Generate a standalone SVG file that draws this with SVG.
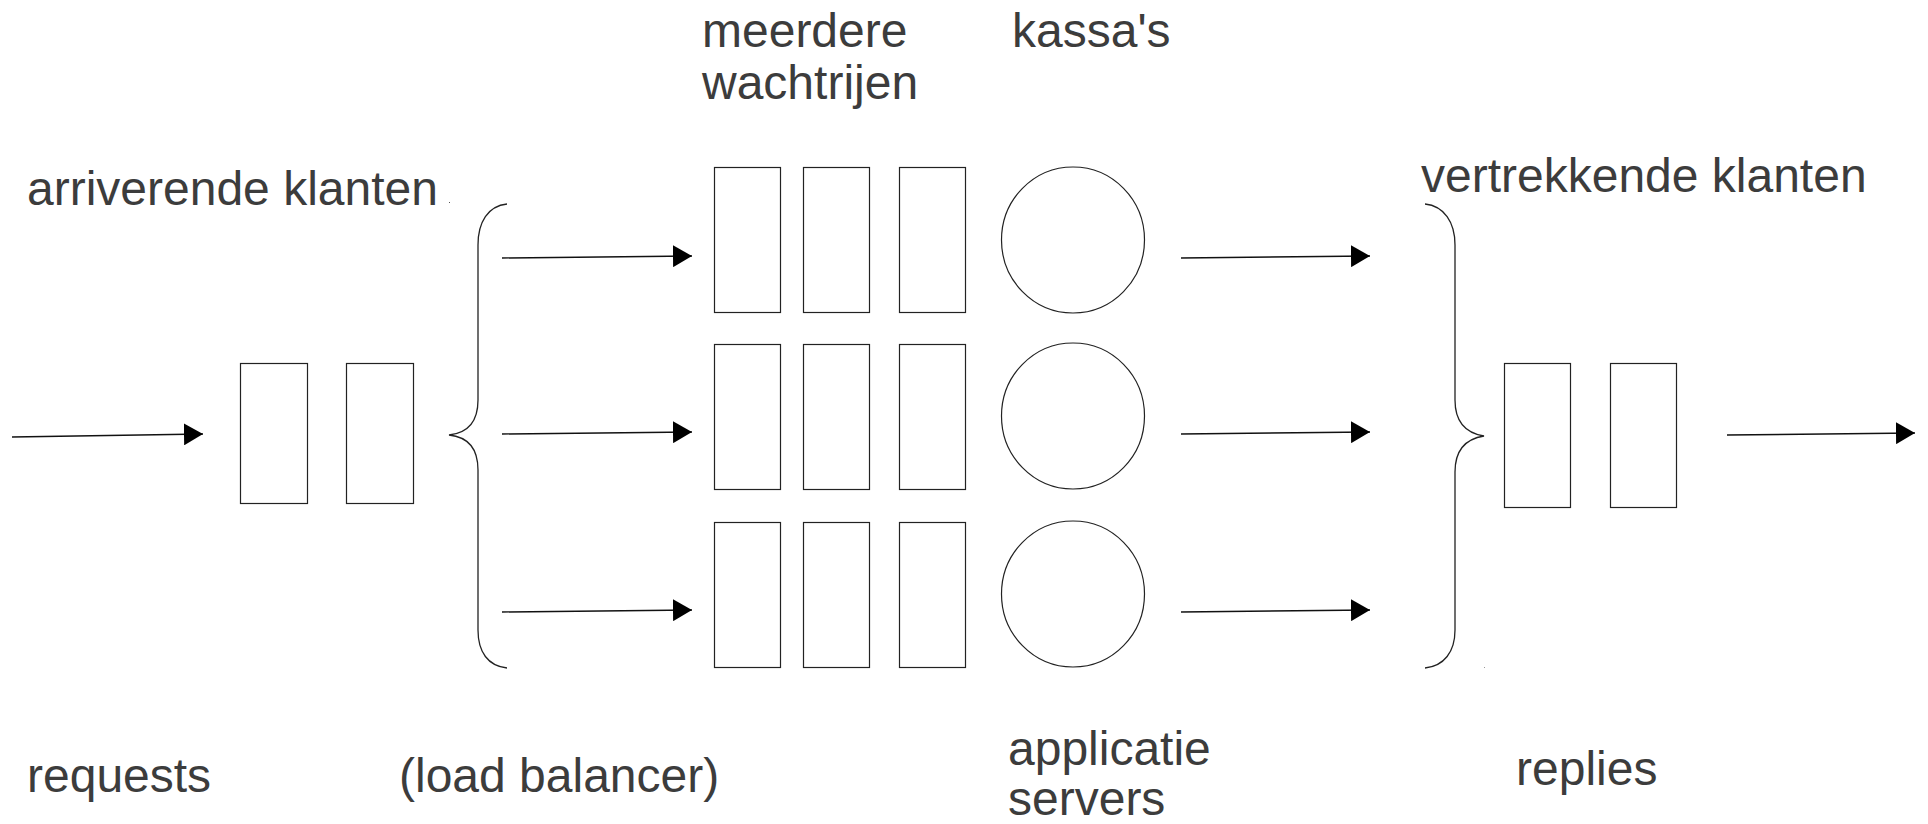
<svg xmlns="http://www.w3.org/2000/svg" width="1928" height="824" viewBox="0 0 1928 824">
<style>
.t{font-family:"Liberation Sans",Arial,sans-serif;font-size:48px;fill:#3c3c3c}
.b{fill:#fff;stroke:#222;stroke-width:1.2}
.c{fill:none;stroke:#111;stroke-width:1.4}
.br{fill:none;stroke:#222;stroke-width:1.3}
</style>
<defs>
<marker id="ah" viewBox="0 0 19 22" refX="19" refY="11" markerWidth="19" markerHeight="22" markerUnits="userSpaceOnUse" orient="auto">
<path d="M0,0 L19,11 L0,22 z" fill="#000"/>
</marker>
</defs>
<rect width="1928" height="824" fill="#fff"/>
<g id="labels">
<text class="t" x="27" y="205">arriverende klanten</text>
<text class="t" x="702" y="47">meerdere</text>
<text class="t" x="702" y="99">wachtrijen</text>
<text class="t" x="1012" y="47">kassa's</text>
<text class="t" x="1421" y="192">vertrekkende klanten</text>
<text class="t" x="27" y="792">requests</text>
<text class="t" x="399" y="792">(load balancer)</text>
<text class="t" x="1008" y="765">applicatie</text>
<text class="t" x="1008" y="815">servers</text>
<text class="t" x="1516" y="785">replies</text>
</g>
<g id="in-queue">
<rect class="b" x="240.5" y="363.5" width="67" height="140"/>
<rect class="b" x="346.5" y="363.5" width="67" height="140"/>
</g>
<g id="load-balancer">
<path class="br" d="M507,204 C488,206 478,222 478,245 L478,400 C478,422 468,433 449,435 C468,437 478,448 478,470 L478,630 C478,652 488,666 507,668"/>
<rect x="449" y="202" width="1" height="1" fill="#555"/>
</g>
<g id="queues">
<rect class="b" x="714.5" y="167.5" width="66" height="145"/>
<rect class="b" x="803.5" y="167.5" width="66" height="145"/>
<rect class="b" x="899.5" y="167.5" width="66" height="145"/>
<rect class="b" x="714.5" y="344.5" width="66" height="145"/>
<rect class="b" x="803.5" y="344.5" width="66" height="145"/>
<rect class="b" x="899.5" y="344.5" width="66" height="145"/>
<rect class="b" x="714.5" y="522.5" width="66" height="145"/>
<rect class="b" x="803.5" y="522.5" width="66" height="145"/>
<rect class="b" x="899.5" y="522.5" width="66" height="145"/>
</g>
<g id="servers">
<ellipse class="b" cx="1073" cy="240" rx="71.5" ry="73"/>
<ellipse class="b" cx="1073" cy="416" rx="71.5" ry="73"/>
<ellipse class="b" cx="1073" cy="594" rx="71.5" ry="73"/>
</g>
<g id="merge">
<path class="br" d="M1425,204 C1444,206 1455,222 1455,245 L1455,400 C1455,422 1465,433 1484,436 C1465,439 1455,450 1455,472 L1455,630 C1455,652 1444,666 1425,668"/>
<rect x="1484" y="667" width="1" height="1" fill="#999"/>
</g>
<g id="out-queue">
<rect class="b" x="1504.5" y="363.5" width="66" height="144"/>
<rect class="b" x="1610.5" y="363.5" width="66" height="144"/>
</g>
<g id="connectors">
<path class="c" d="M12,437 L203,434" marker-end="url(#ah)"/>
<path class="c" d="M502,258 L692,256" marker-end="url(#ah)"/>
<path class="c" d="M502,434 L692,432" marker-end="url(#ah)"/>
<path class="c" d="M502,612 L692,610" marker-end="url(#ah)"/>
<path class="c" d="M1181,258 L1370,256" marker-end="url(#ah)"/>
<path class="c" d="M1181,434 L1370,432" marker-end="url(#ah)"/>
<path class="c" d="M1181,612 L1370,610" marker-end="url(#ah)"/>
<path class="c" d="M1727,435 L1915,433" marker-end="url(#ah)"/>
</g>
</svg>
